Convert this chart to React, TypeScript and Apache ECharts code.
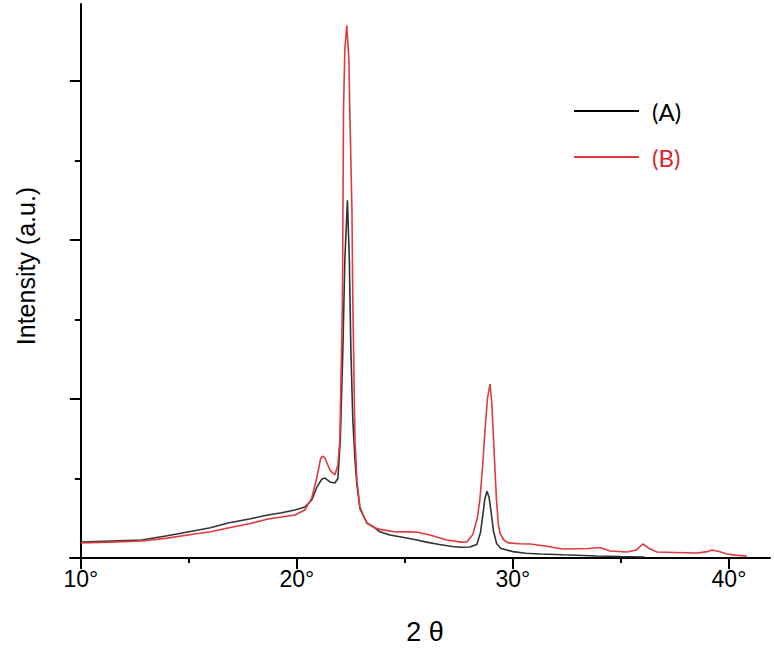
import React, { useEffect, useRef } from "react";
import * as echarts from "echarts";

// 2θ (degrees) and intensity (a.u.)
const thetaA = [10.0, 11.4, 12.82, 14.0, 14.95, 16.0, 16.81, 17.8, 18.66, 19.3, 19.91, 20.37, 20.69, 20.93, 21.16, 21.3, 21.53, 21.76, 21.9, 22.01, 22.13, 22.22, 22.34, 22.43, 22.5, 22.59, 22.69, 22.78, 22.92, 23.24, 23.61, 23.84, 24.3, 24.9, 25.5, 26.0, 26.6, 27.2, 27.6, 28.0, 28.33, 28.5, 28.6, 28.7, 28.8, 28.9, 29.0, 29.1, 29.25, 29.45, 30.0, 30.6, 31.25, 32.31, 33.89, 35.0, 36.1];
const intensityA = [0.101, 0.107, 0.113, 0.14, 0.164, 0.19, 0.22, 0.245, 0.27, 0.285, 0.302, 0.321, 0.365, 0.447, 0.497, 0.503, 0.478, 0.472, 0.5, 0.74, 1.31, 1.87, 2.25, 1.87, 1.31, 0.87, 0.62, 0.46, 0.31, 0.22, 0.19, 0.165, 0.145, 0.13, 0.115, 0.1, 0.085, 0.072, 0.068, 0.069, 0.085, 0.16, 0.26, 0.37, 0.42, 0.38, 0.28, 0.17, 0.09, 0.06, 0.04, 0.03, 0.025, 0.02, 0.013, 0.009, 0.006];

const thetaB = [10.0, 11.4, 12.82, 14.0, 14.95, 16.0, 16.81, 17.8, 18.66, 19.3, 19.91, 20.37, 20.69, 20.93, 21.1, 21.2, 21.3, 21.53, 21.76, 21.9, 21.99, 22.11, 22.16, 22.22, 22.31, 22.41, 22.45, 22.55, 22.59, 22.69, 22.78, 22.92, 23.24, 23.61, 23.84, 24.5, 25.2, 25.6, 26.16, 26.94, 27.6, 27.87, 28.15, 28.35, 28.47, 28.6, 28.7, 28.82, 28.94, 29.02, 29.09, 29.17, 29.24, 29.32, 29.4, 29.6, 29.8, 30.3, 30.79, 31.5, 32.31, 33.5, 34.03, 34.5, 35.28, 35.7, 36.02, 36.3, 36.67, 37.5, 38.52, 39.0, 39.21, 39.5, 39.91, 40.3, 40.83];
const intensityB = [0.094, 0.1, 0.107, 0.125, 0.145, 0.165, 0.189, 0.215, 0.245, 0.258, 0.27, 0.302, 0.377, 0.509, 0.625, 0.64, 0.629, 0.553, 0.522, 0.585, 0.74, 1.62, 2.82, 3.19, 3.35, 3.13, 2.82, 2.19, 1.62, 0.74, 0.49, 0.32, 0.22, 0.19, 0.18, 0.165, 0.164, 0.162, 0.145, 0.113, 0.1, 0.101, 0.15, 0.25, 0.365, 0.58, 0.786, 1.0, 1.094, 0.98, 0.786, 0.56, 0.365, 0.22, 0.157, 0.11, 0.095, 0.09, 0.088, 0.075, 0.057, 0.06, 0.066, 0.044, 0.038, 0.05, 0.088, 0.06, 0.038, 0.035, 0.031, 0.04, 0.05, 0.042, 0.025, 0.018, 0.013];

const seriesNames = ["(A)", "(B)"];
const xMajorTicks = [10, 20, 30, 40];
const xMinorTicks = [15, 25, 35];
const yMajorTicks = [1, 2, 3];
const yMinorTicks = [0.5, 1.5, 2.5];

const FONT = "'Liberation Sans', Arial, sans-serif";
const BLACK = "#333333";
const RED = "#e03a3e";

export default function App() {
  const ref = useRef<HTMLDivElement>(null);
  useEffect(() => {
    if (!ref.current) return;
    const chart = echarts.init(ref.current, null, { renderer: "svg" });
    const dataA = thetaA.map((t, i) => [t, intensityA[i]]);
    const dataB = thetaB.map((t, i) => [t, intensityB[i]]);
    const axisLine = { show: true, lineStyle: { color: "#000", width: 2 } };
    chart.setOption({
      animation: false,
      backgroundColor: "#fff",
      grid: { left: 70, right: 4, top: 4, bottom: 93, containLabel: false },
      xAxis: [
        {
          type: "value",
          position: "bottom",
          min: 9.5,
          max: 41.9,
          axisLine,
          splitLine: { show: false },
          axisTick: { show: true, customValues: xMajorTicks, length: 11, lineStyle: { color: "#000", width: 2 } },
          axisLabel: {
            show: true,
            customValues: xMajorTicks,
            formatter: (v: number) => v + "°",
            fontSize: 23,
            fontFamily: FONT,
            color: "#000",
            margin: 9,
          },
        },
        {
          type: "value",
          position: "bottom",
          min: 9.5,
          max: 41.9,
          axisLine: { show: false },
          splitLine: { show: false },
          axisTick: { show: true, customValues: xMinorTicks, length: 5, lineStyle: { color: "#000", width: 2 } },
          axisLabel: { show: false },
        },
      ],
      yAxis: [
        {
          type: "value",
          position: "left",
          offset: -10.8,
          min: 0,
          max: 3.484,
          axisLine,
          splitLine: { show: false },
          axisTick: { show: true, customValues: yMajorTicks, length: 11, lineStyle: { color: "#000", width: 2 } },
          axisLabel: { show: false },
        },
        {
          type: "value",
          position: "left",
          offset: -10.8,
          min: 0,
          max: 3.484,
          axisLine: { show: false },
          splitLine: { show: false },
          axisTick: { show: true, customValues: yMinorTicks, length: 6, lineStyle: { color: "#000", width: 2 } },
          axisLabel: { show: false },
        },
      ],
      legend: {
        orient: "vertical",
        left: 569,
        top: 92,
        icon: "rect",
        itemWidth: 65,
        itemHeight: 2,
        itemGap: 18,
        data: [
          { name: seriesNames[0], textStyle: { color: "#000" }, itemStyle: { color: "#000" } },
          { name: seriesNames[1], textStyle: { color: "#d9262c" }, itemStyle: { color: RED } },
        ],
        textStyle: { fontSize: 24, fontFamily: "Lato, 'Open Sans', sans-serif", lineHeight: 28, padding: [0, 0, 0, 8] },
      },
      graphic: [
        {
          type: "text",
          x: 26,
          y: 266,
          rotation: Math.PI / 2,
          style: {
            text: "Intensity (a.u.)",
            font: `25px ${FONT}`,
            fill: "#000",
            align: "center",
            verticalAlign: "middle",
          },
        },
        {
          type: "text",
          x: 425,
          y: 632,
          style: {
            text: "2 θ",
            font: `27px ${FONT}`,
            fill: "#000",
            align: "center",
            verticalAlign: "middle",
          },
        },
      ],
      series: [
        {
          name: seriesNames[0],
          type: "line",
          xAxisIndex: 0,
          yAxisIndex: 0,
          data: dataA,
          showSymbol: false,
          symbol: "none",
          lineStyle: { color: BLACK, width: 1.6 },
          itemStyle: { color: BLACK },
        },
        {
          name: seriesNames[1],
          type: "line",
          xAxisIndex: 0,
          yAxisIndex: 0,
          data: dataB,
          showSymbol: false,
          symbol: "none",
          lineStyle: { color: RED, width: 1.6 },
          itemStyle: { color: RED },
        },
      ],
    });
    return () => chart.dispose();
  }, []);
  return (
    <div
      ref={ref}
      style={{ position: "fixed", left: 0, top: 0, width: 774, height: 651, background: "#fff" }}
    />
  );
}
